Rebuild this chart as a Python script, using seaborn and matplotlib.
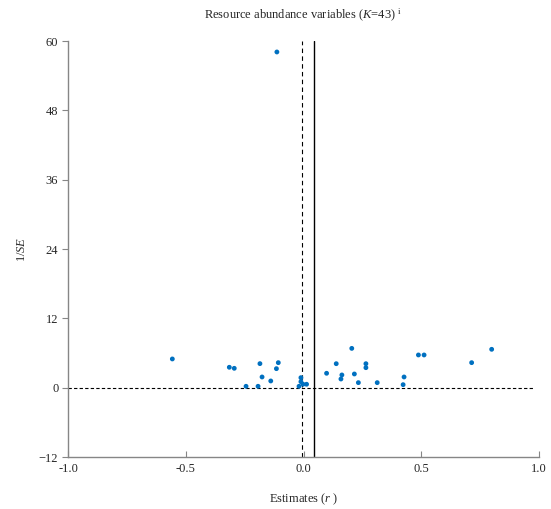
import matplotlib
matplotlib.use("Agg")
import matplotlib.pyplot as plt
import seaborn as sns
import pandas as pd

# Data
estimates = [-0.557, -0.315, -0.294, -0.185, -0.107, -0.115, -0.176, -0.139, -0.244, -0.193,
             -0.011, -0.011, -0.019, -0.002, 0.013, 0.098, 0.139, 0.163, 0.159, 0.205,
             0.216, 0.233, 0.265, 0.265, 0.313, 0.427, 0.423, 0.488, 0.512, 0.714,
             0.799, -0.113]
inv_se = [4.97, 3.53, 3.35, 4.16, 4.33, 3.29, 1.85, 1.16, 0.24, 0.24,
          1.73, 1.04, 0.24, 0.59, 0.59, 2.49, 4.15, 2.20, 1.50, 6.80,
          2.37, 0.87, 4.15, 3.46, 0.87, 1.85, 0.52, 5.66, 5.66, 4.33,
          6.64, 58.1]
x_ticks = [-1.0, -0.5, 0.0, 0.5, 1.0]
x_tick_labels = ["-1.0", "-0.5", "0.0", "0.5", "1.0"]
y_ticks = [-12, 0, 12, 24, 36, 48, 60]
mean_estimate = 0.043
null_line = -0.008

df = pd.DataFrame({"r": estimates, "inv_se": inv_se})

sns.set_style("white")
plt.rcParams['font.family'] = ['Liberation Serif', 'DejaVu Serif']
plt.rcParams['mathtext.fontset'] = 'custom'
plt.rcParams['mathtext.rm'] = 'Liberation Serif'
plt.rcParams['mathtext.it'] = 'Liberation Serif:italic'

fig = plt.figure(figsize=(5.51, 5.09), dpi=100)
ax = fig.add_axes([68/551, 1-457/509, (539-68)/551, (457-41)/509])

ax.axhline(0, xmin=0, xmax=0.987, color="black", linestyle=(0, (3, 2)), linewidth=0.8, zorder=1)
ax.axvline(null_line, color="black", linestyle=(0, (4, 3)), linewidth=0.8, zorder=1)
ax.axvline(mean_estimate, color="black", linestyle="-", linewidth=1.0, zorder=1)

sns.scatterplot(data=df, x="r", y="inv_se", ax=ax, color="#0070C0", s=12,
                edgecolor="none", zorder=3)

ax.set_xlim(-1.0, 1.0)
ax.set_ylim(-12, 60)
ax.set_xticks(x_ticks)
ax.set_xticklabels(x_tick_labels)
ax.set_yticks(y_ticks)

for s in ["top", "right"]:
    ax.spines[s].set_visible(False)
for s in ["left", "bottom"]:
    ax.spines[s].set_color("#868686")
    ax.spines[s].set_linewidth(1.0)

ax.tick_params(axis="y", direction="out", length=4, color="#868686", labelsize=9, pad=3, left=True)
ax.tick_params(axis="x", direction="in", length=4, color="#868686", labelsize=9, pad=4, bottom=True)

ax.set_xlabel("Estimates ($\\it{r}$ )", fontsize=9, labelpad=12)
ax.set_ylabel("1/$\\it{SE}$", fontsize=9, labelpad=8)
ax.set_title("Resource abundance variables ($\\it{K}$=43) $^{\\mathrm{i}}$", fontsize=9, pad=16)

fig.savefig("out.png", dpi=100)
